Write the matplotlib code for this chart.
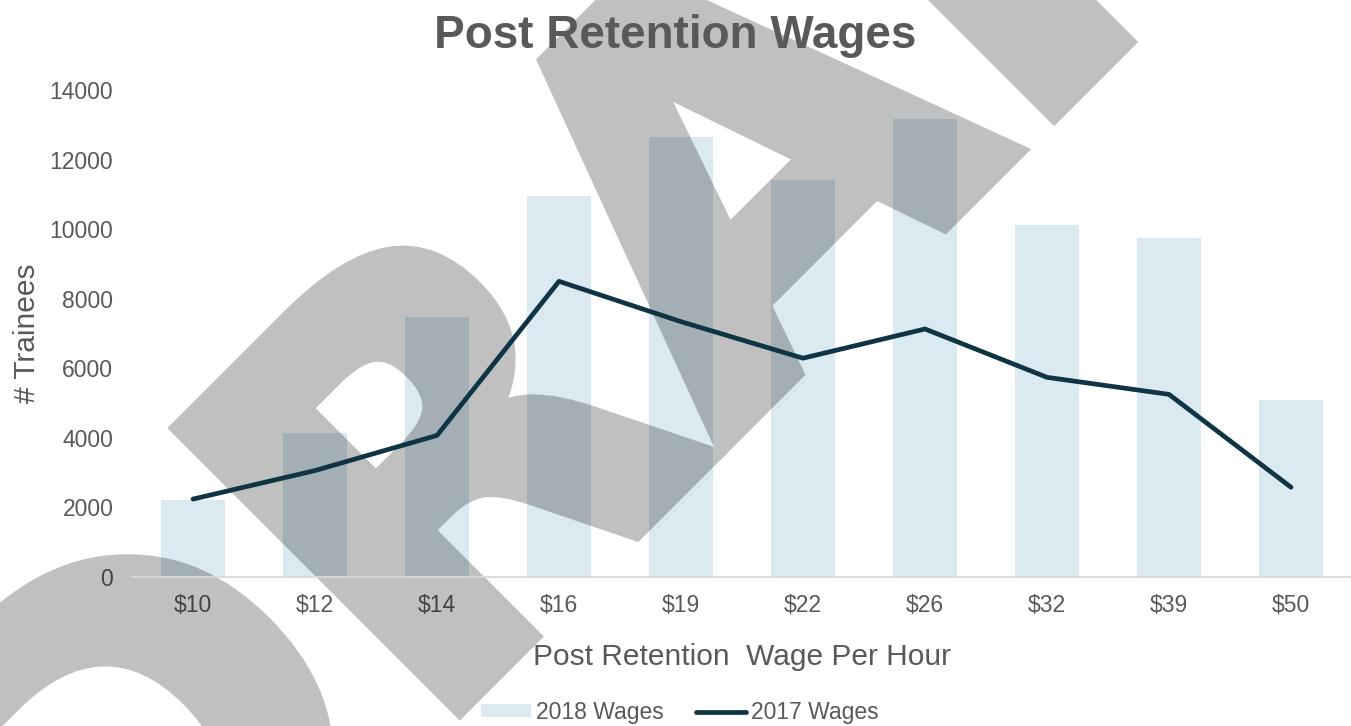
import matplotlib
matplotlib.use('Agg')
import matplotlib.pyplot as plt
import matplotlib.patheffects as pe
import numpy as np

plt.rcParams['font.family'] = ['Liberation Sans', 'DejaVu Sans']

wages = ['$10', '$12', '$14', '$16', '$19', '$22', '$26', '$32', '$39', '$50']
trainees_2018 = [2200, 4140, 7470, 10950, 12660, 11400, 13170, 10120, 9740, 5080]
trainees_2017 = [2240, 3060, 4070, 8500, 7340, 6290, 7130, 5740, 5250, 2580]
yticks = [0, 2000, 4000, 6000, 8000, 10000, 12000, 14000]

txt = '#595959'


def fade(img, dpi):
    # draw the watermark opaque, then make the whole thing see-through at once
    img = img.copy()
    img[..., 3] *= 0.25
    return img, 0, 0


fig = plt.figure(figsize=(13.51, 7.26), dpi=100)
ax = fig.add_axes([132/1351, 1-577/726, 1220/1351, 487/726])

x = np.arange(len(wages))
bars = ax.bar(x, trainees_2018, width=0.52, color='#dbe9f1', label='2018 Wages', zorder=1)
line, = ax.plot(x, trainees_2017, color='#0e3445', lw=3.4, label='2017 Wages', zorder=3,
                solid_capstyle='round')

ax.set_xlim(-0.5, 9.5)
ax.set_ylim(0, 14000)
ax.set_yticks(yticks)
ax.set_xticks(x, wages)
for s in ['top', 'right', 'left']:
    ax.spines[s].set_visible(False)
ax.spines['bottom'].set_color('#d9d9d9')
ax.spines['bottom'].set_linewidth(1.3)
ax.tick_params(length=0, labelsize=16.5, labelcolor=txt)
ax.tick_params(axis='x', pad=12)
ax.tick_params(axis='y', pad=13.5)

ax.set_xlabel('Post Retention  Wage Per Hour', fontsize=21.5, color=txt, va='center')
ax.xaxis.set_label_coords(0.5, -0.165)
ax.set_ylabel('# Trainees', fontsize=21.5, color=txt, va='center')
ax.yaxis.set_label_coords(-0.086, 0.5)

fig.text(0.5, 1-36/726, 'Post Retention Wages', ha='center', va='center',
         fontsize=33, fontweight='bold', color=txt)

# watermark
wm = ax.text(0.0776, -0.4652, 'DRAFT', transform=fig.transFigure, fontsize=392,
             fontweight='bold', family='DejaVu Sans', color='black',
             rotation=45, rotation_mode='anchor', ha='left', va='baseline',
             clip_on=False, zorder=2,
             path_effects=[pe.Stroke(linewidth=12, foreground='black', joinstyle='miter'),
                           pe.Normal()])
wm.set_agg_filter(fade)

fig.legend([bars, line], ['2018 Wages', '2017 Wages'], loc='center',
           bbox_to_anchor=(0.503, 0.019), ncol=2, frameon=False,
           fontsize=16.5, handlelength=2.2, handleheight=0.45, handletextpad=0.2,
           columnspacing=1.4, labelcolor=txt)

fig.savefig('out.png', dpi=100)
